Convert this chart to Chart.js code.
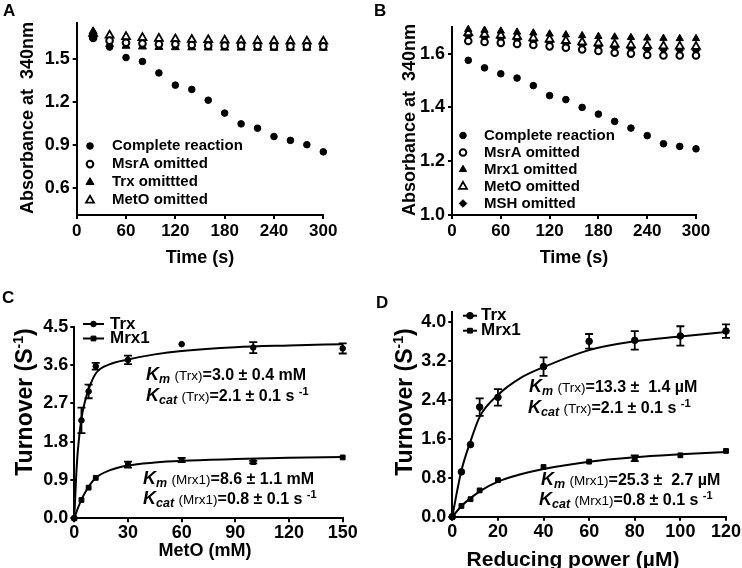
<!DOCTYPE html>
<html>
<head>
<meta charset="utf-8">
<script src="https://cdn.jsdelivr.net/npm/chart.js@4.4.1/dist/chart.umd.min.js"></script>
<style>
html, body { margin: 0; padding: 0; background: #fff; }
#fig { position: relative; width: 742px; height: 568px; overflow: hidden; font-family: "Liberation Sans", Arial, sans-serif; color: #000; }
canvas { position: absolute; }
.lt { position: absolute; font-weight: bold; font-size: 17px; line-height: 1; }
.tt { position: absolute; white-space: nowrap; font-weight: bold; line-height: 1; }
.yt { transform: translate(-50%, -50%) rotate(-90deg); }
.xt { transform: translate(-50%, -50%); }
.ann { position: absolute; white-space: nowrap; font-weight: bold; font-size: 16px; line-height: 16px; transform: translateY(-50%); }
.ann .k { font-style: italic; font-size: 18px; }
.ann .sb { font-style: italic; font-size: 12.5px; position: relative; top: 3px; }
.ann .nm { font-weight: normal; font-size: 13.5px; }
.sp { font-size: 11px; position: relative; top: -6px; }
.tt .sp { font-size: 14px; top: -9px; }
</style>
</head>
<body>
<div id="fig">
  <canvas id="cA" width="371" height="284" style="left:0;top:0"></canvas>
  <canvas id="cB" width="371" height="284" style="left:371px;top:0"></canvas>
  <canvas id="cC" width="371" height="284" style="left:0;top:284px"></canvas>
  <canvas id="cD" width="371" height="284" style="left:371px;top:284px"></canvas>

  <div class="lt" style="left:3px;top:2px">A</div>
  <div class="lt" style="left:374px;top:2px">B</div>
  <div class="lt" style="left:2px;top:289px">C</div>
  <div class="lt" style="left:376px;top:294px">D</div>

  <div class="tt yt" style="left:27px;top:118px;font-size:18px">Absorbance at&nbsp; 340nm</div>
  <div class="tt xt" style="left:200px;top:257px;font-size:18px">Time (s)</div>
  <div class="tt yt" style="left:409px;top:120px;font-size:18px">Absorbance at&nbsp; 340nm</div>
  <div class="tt xt" style="left:574px;top:257px;font-size:18px">Time (s)</div>
  <div class="tt yt" style="left:24px;top:402px;font-size:23px">Turnover (S<span class="sp">-1</span>)</div>
  <div class="tt xt" style="left:205px;top:550px;font-size:18px">MetO (mM)</div>
  <div class="tt yt" style="left:404px;top:402px;font-size:23px">Turnover (S<span class="sp">-1</span>)</div>
  <div class="tt xt" style="left:573px;top:558px;font-size:21px">Reducing power (&micro;M)</div>

  <div class="ann" style="left:146px;top:375px"><span class="k">K</span><span class="sb">m</span> <span class="nm">(Trx)</span>=3.0 ± 0.4 mM</div>
  <div class="ann" style="left:146px;top:396px"><span class="k">K</span><span class="sb">cat</span> <span class="nm">(Trx)</span>=2.1 ± 0.1 s <span class="sp">-1</span></div>
  <div class="ann" style="left:143px;top:479px"><span class="k">K</span><span class="sb">m</span> <span class="nm">(Mrx1)</span>=8.6 ± 1.1 mM</div>
  <div class="ann" style="left:143px;top:499px"><span class="k">K</span><span class="sb">cat</span> <span class="nm">(Mrx1)</span>=0.8 ± 0.1 s <span class="sp">-1</span></div>

  <div class="ann" style="left:529px;top:387px"><span class="k">K</span><span class="sb">m</span> <span class="nm">(Trx)</span>=13.3 ±&nbsp; 1.4 &micro;M</div>
  <div class="ann" style="left:528px;top:408px"><span class="k">K</span><span class="sb">cat</span> <span class="nm">(Trx)</span>=2.1 ± 0.1 s <span class="sp">-1</span></div>
  <div class="ann" style="left:541px;top:480px"><span class="k">K</span><span class="sb">m</span> <span class="nm">(Mrx1)</span>=25.3 ±&nbsp; 2.7 &micro;M</div>
  <div class="ann" style="left:539px;top:500px"><span class="k">K</span><span class="sb">cat</span> <span class="nm">(Mrx1)</span>=0.8 ± 0.1 s <span class="sp">-1</span></div>
</div>

<script>
// ---- panel A / B : absorbance vs time ----
const timeS = [20, 40, 60, 80, 100, 120, 140, 160, 180, 200, 220, 240, 260, 280, 300];
const aComplete = [1.64, 1.58, 1.507, 1.48, 1.40, 1.315, 1.285, 1.21, 1.12, 1.045, 1.015, 0.957, 0.93, 0.90, 0.85];
const aMsrA     = [1.645, 1.625, 1.61, 1.605, 1.60, 1.60, 1.595, 1.59, 1.59, 1.59, 1.587, 1.585, 1.585, 1.585, 1.585];
const aTrx      = [1.69, 1.60, 1.588, 1.583, 1.58, 1.578, 1.577, 1.576, 1.575, 1.575, 1.574, 1.574, 1.574, 1.574, 1.574];
const aMetO     = [1.675, 1.662, 1.652, 1.645, 1.64, 1.636, 1.632, 1.63, 1.627, 1.625, 1.623, 1.622, 1.621, 1.62, 1.62];

const bComplete = [1.575, 1.547, 1.525, 1.509, 1.481, 1.444, 1.429, 1.40, 1.375, 1.348, 1.323, 1.295, 1.265, 1.255, 1.246];
const bMsrA     = [1.647, 1.643, 1.64, 1.636, 1.632, 1.627, 1.622, 1.615, 1.61, 1.603, 1.60, 1.595, 1.593, 1.593, 1.593];
const bMrx1     = [1.69, 1.687, 1.684, 1.68, 1.677, 1.673, 1.67, 1.667, 1.664, 1.662, 1.66, 1.658, 1.657, 1.656, 1.656];
const bMetO     = [1.677, 1.672, 1.668, 1.663, 1.658, 1.653, 1.648, 1.643, 1.639, 1.635, 1.632, 1.63, 1.628, 1.627, 1.626];
const bMSH      = [1.665, 1.66, 1.656, 1.652, 1.647, 1.642, 1.637, 1.632, 1.627, 1.622, 1.619, 1.616, 1.614, 1.613, 1.612];

const timeTicks = [0, 60, 120, 180, 240, 300];
const aYTicks = [0.6, 0.9, 1.2, 1.5];
const bYTicks = [1.0, 1.2, 1.4, 1.6];

// ---- panel C : turnover vs MetO ----
const cMetO     = [0, 4, 8, 12, 30, 60, 100, 150];
const cTrx      = [0, 2.3, 2.98, 3.57, 3.72, 4.09, 4.01, 3.99];
const cTrxErr   = [0, 0.3, 0.16, 0.08, 0.1, 0, 0.13, 0.12];
const cMrx1     = [0, 0.43, 0.72, 0.95, 1.26, 1.37, 1.32, 1.43];
const cMrx1Err  = [0, 0, 0, 0, 0.07, 0.05, 0.03, 0];
const cFitX     = [0, 1, 2, 4, 6, 8, 12, 20, 30, 45, 60, 90, 120, 150];
const cTrxFit   = [0, 0.95, 1.6, 2.35, 2.75, 3.03, 3.4, 3.62, 3.73, 3.85, 3.93, 4.02, 4.06, 4.09];
const cMrx1Fit  = [0, 0.12, 0.24, 0.44, 0.6, 0.74, 0.95, 1.13, 1.24, 1.31, 1.35, 1.39, 1.42, 1.44];
const cXTicks = [0, 30, 60, 90, 120, 150];
const cYTicks = [0, 0.9, 1.8, 2.7, 3.6, 4.5];

// ---- panel D : turnover vs reducing power ----
const dPower    = [0, 4, 8, 12, 20, 40, 60, 80, 100, 120];
const dTrx      = [0, 0.92, 1.48, 2.25, 2.45, 3.08, 3.6, 3.62, 3.71, 3.81];
const dTrxErr   = [0, 0, 0, 0.18, 0.17, 0.19, 0.15, 0.19, 0.2, 0.14];
const dMrx1     = [0, 0.22, 0.36, 0.54, 0.75, 1.02, 1.13, 1.2, 1.26, 1.35];
const dMrx1Err  = [0, 0, 0, 0, 0, 0, 0, 0.06, 0, 0];
const dFitX     = [0, 2, 4, 8, 12, 20, 30, 40, 60, 80, 100, 120];
const dTrxFit   = [0, 0.5, 0.95, 1.55, 2.05, 2.5, 2.85, 3.07, 3.42, 3.6, 3.7, 3.79];
const dMrx1Fit  = [0, 0.11, 0.22, 0.38, 0.52, 0.72, 0.87, 0.98, 1.13, 1.22, 1.28, 1.33];
const dXTicks = [0, 20, 40, 60, 80, 100, 120];
const dYTicks = [0, 0.8, 1.6, 2.4, 3.2, 4.0];

const FONT = '"Liberation Sans", Arial, sans-serif';
const xy = (xs, ys) => xs.map((x, i) => ({ x, y: ys[i] }));

function axis(min, max, ticks, fmt, fit, size, pad) {
  return {
    type: 'linear', min, max,
    afterBuildTicks: s => { s.ticks = ticks.map(v => ({ value: v })); },
    afterFit: s => { if (s.isHorizontal()) s.height = fit; else s.width = fit; },
    grid: { drawOnChartArea: false, drawTicks: true, tickLength: 4, color: '#000', lineWidth: 2 },
    border: { color: '#000', width: 2 },
    ticks: { color: '#000', padding: pad, autoSkip: false, maxRotation: 0,
             font: { family: FONT, size: size, weight: 'bold' }, callback: fmt }
  };
}
const f1 = v => v.toFixed(1);
const f0 = v => String(v);

function pts(label, data, style, r, fill, bw) {
  return { label, data, pointStyle: style, pointRadius: r, pointHoverRadius: r,
           pointBackgroundColor: fill, pointBorderColor: '#000', pointBorderWidth: bw,
           showLine: false, clip: false };
}
function fit(data) {
  return { label: '', data, showLine: true, pointRadius: 0, borderColor: '#000', borderWidth: 2,
           cubicInterpolationMode: 'monotone', fill: false, clip: false };
}

// legend drawn with the datasets' own point styles
const symLegend = {
  id: 'symLegend',
  afterDraw(chart, args, o) {
    if (!o.rows) return;
    const ctx = chart.ctx;
    ctx.save();
    o.rows.forEach((di, k) => {
      const ds = chart.data.datasets[di];
      const y = o.y + k * o.dy;
      if (o.line) {
        ctx.strokeStyle = '#000'; ctx.lineWidth = 2;
        ctx.beginPath(); ctx.moveTo(o.line[0], y); ctx.lineTo(o.line[1], y); ctx.stroke();
      }
      ctx.fillStyle = ds.pointBackgroundColor;
      ctx.strokeStyle = '#000';
      ctx.lineWidth = ds.pointBorderWidth;
      Chart.helpers.drawPoint(ctx, { pointStyle: ds.pointStyle, radius: ds.pointRadius,
        borderWidth: ds.pointBorderWidth, rotation: 0 }, o.sx, y);
      ctx.fillStyle = '#000';
      ctx.font = o.font;
      ctx.textBaseline = 'middle';
      ctx.textAlign = 'left';
      ctx.fillText(ds.label, o.tx, y);
    });
    ctx.restore();
  }
};

// vertical SEM bars
const errorBars = {
  id: 'errorBars',
  afterDatasetsDraw(chart, args, o) {
    if (!o.sets) return;
    const { ctx, scales: { x, y } } = chart;
    ctx.save();
    ctx.strokeStyle = '#000';
    ctx.lineWidth = 1.8;
    o.sets.forEach(set => {
      set.x.forEach((xv, i) => {
        const e = set.err[i];
        if (!e) return;
        const px = x.getPixelForValue(xv);
        const t = y.getPixelForValue(set.y[i] + e);
        const b = y.getPixelForValue(set.y[i] - e);
        ctx.beginPath();
        ctx.moveTo(px, t); ctx.lineTo(px, b);
        ctx.moveTo(px - 4, t); ctx.lineTo(px + 4, t);
        ctx.moveTo(px - 4, b); ctx.lineTo(px + 4, b);
        ctx.stroke();
      });
    });
    ctx.restore();
  }
};

function make(id, datasets, x, y, padding, plugins) {
  return new Chart(document.getElementById(id), {
    type: 'scatter',
    data: { datasets },
    plugins: [symLegend, errorBars],
    options: {
      responsive: false, animation: false, devicePixelRatio: 1,
      layout: { padding },
      scales: { x, y },
      plugins: Object.assign({ legend: { display: false }, tooltip: { enabled: false } }, plugins)
    }
  });
}

// A
make('cA', [
  pts('Complete reaction', xy(timeS, aComplete), 'circle', 3.3, '#000', 1),
  pts('MsrA omitted', xy(timeS, aMsrA), 'circle', 3.3, '#fff', 2),
  pts('Trx omittted', xy(timeS, aTrx), 'triangle', 4.6, '#000', 1),
  pts('MetO omitted', xy(timeS, aMetO), 'triangle', 4.6, '#fff', 1.8)
],
  axis(0, 300, timeTicks, f0, 30, 17, 2),
  axis(0.41, 1.75, aYTicks, f1, 76.7, 18, 3),
  { left: 0, top: 22.7, right: 47.7, bottom: 39 },
  { symLegend: { rows: [0, 1, 2, 3], sx: 90, tx: 112, y: 146, dy: 18.1, font: 'bold 15px ' + FONT } });

// B
make('cB', [
  pts('Complete reaction', xy(timeS, bComplete), 'circle', 3.3, '#000', 1),
  pts('MsrA omitted', xy(timeS, bMsrA), 'circle', 3.3, '#fff', 2),
  pts('Mrx1 omitted', xy(timeS, bMrx1), 'triangle', 4.2, '#000', 1),
  pts('MetO omitted', xy(timeS, bMetO), 'triangle', 4.6, '#fff', 1.8),
  pts('MSH omitted', xy(timeS, bMSH), 'rectRot', 3.8, '#000', 1)
],
  axis(0, 300, timeTicks, f0, 30, 17, 2),
  axis(1.0, 1.7, bYTicks, f1, 81, 18, 3),
  { left: 0, top: 26.7, right: 46, bottom: 39 },
  { symLegend: { rows: [0, 1, 2, 3, 4], sx: 92, tx: 113, y: 135.5, dy: 17, font: 'bold 15px ' + FONT } });

// C
make('cC', [
  pts('Trx', xy(cMetO, cTrx), 'circle', 2.8, '#000', 1),
  pts('Mrx1', xy(cMetO, cMrx1), 'rect', 3.4, '#000', 1),
  fit(xy(cFitX, cTrxFit)),
  fit(xy(cFitX, cMrx1Fit))
],
  axis(0, 150, cXTicks, f0, 30, 18, 0),
  axis(0, 4.5, cYTicks, f1, 74.3, 18, 2),
  { left: 0, top: 42.7, right: 28.3, bottom: 19.7 },
  { symLegend: { rows: [0, 1], line: [83, 104], sx: 93.5, tx: 110, y: 40, dy: 14.5, font: 'bold 17px ' + FONT },
    errorBars: { sets: [ { x: cMetO, y: cTrx, err: cTrxErr }, { x: cMetO, y: cMrx1, err: cMrx1Err } ] } });

// D
make('cD', [
  pts('Trx', xy(dPower, dTrx), 'circle', 3.3, '#000', 1),
  pts('Mrx1', xy(dPower, dMrx1), 'rect', 3.4, '#000', 1),
  fit(xy(dFitX, dTrxFit)),
  fit(xy(dFitX, dMrx1Fit))
],
  axis(0, 120, dXTicks, f0, 30, 18, 1),
  axis(0, 4.2, dYTicks, f1, 81.3, 18, 2),
  { left: 0, top: 28.1, right: 15, bottom: 21.3 },
  { symLegend: { rows: [0, 1], line: [92, 106], sx: 99, tx: 110, y: 31.7, dy: 15, font: 'bold 17px ' + FONT },
    errorBars: { sets: [ { x: dPower, y: dTrx, err: dTrxErr }, { x: dPower, y: dMrx1, err: dMrx1Err } ] } });
</script>
</body>
</html>
